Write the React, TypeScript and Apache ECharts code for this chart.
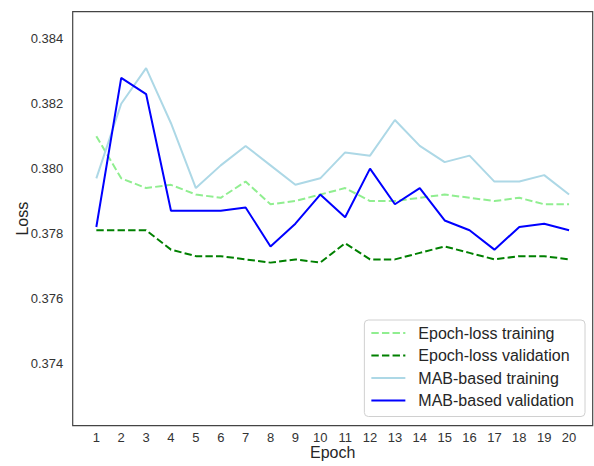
import React, { useEffect, useRef } from "react";
import * as echarts from "echarts";

const epochs = [1, 2, 3, 4, 5, 6, 7, 8, 9, 10, 11, 12, 13, 14, 15, 16, 17, 18, 19, 20];
const epochLossTraining = [0.3810, 0.3797, 0.3794, 0.3795, 0.3792, 0.3791, 0.3796, 0.3789, 0.3790, 0.3792, 0.3794, 0.3790, 0.3790, 0.3791, 0.3792, 0.3791, 0.3790, 0.3791, 0.3789, 0.3789];
const epochLossValidation = [0.3781, 0.3781, 0.3781, 0.3775, 0.3773, 0.3773, 0.3772, 0.3771, 0.3772, 0.3771, 0.3777, 0.3772, 0.3772, 0.3774, 0.3776, 0.3774, 0.3772, 0.3773, 0.3773, 0.3772];
const mabTraining = [0.3797, 0.3820, 0.3831, 0.3814, 0.3794, 0.3801, 0.3807, 0.3801, 0.3795, 0.3797, 0.3805, 0.3804, 0.3815, 0.3807, 0.3802, 0.3804, 0.3796, 0.3796, 0.3798, 0.3792];
const mabValidation = [0.3782, 0.3828, 0.3823, 0.3787, 0.3787, 0.3787, 0.3788, 0.3776, 0.3783, 0.3792, 0.3785, 0.3800, 0.3789, 0.3794, 0.3784, 0.3781, 0.3775, 0.3782, 0.3783, 0.3781];
const yTicks = [0.374, 0.376, 0.378, 0.380, 0.382, 0.384];

const FONT = "'Liberation Sans', Arial, sans-serif";

export default function App() {
  const ref = useRef<HTMLDivElement>(null);
  useEffect(() => {
    if (!ref.current) return;
    const chart = echarts.init(ref.current, undefined, { renderer: "svg" });
    const pairs = (vals: number[]) => epochs.map((e, i) => [e, vals[i]]);
    const dash = [7.4, 3.2];
    chart.setOption({
      animation: false,
      backgroundColor: "#ffffff",
      textStyle: { fontFamily: FONT },
      grid: {
        left: 72.7,
        top: 11.7,
        right: 1.3,
        bottom: 40.3,
        show: true,
        borderColor: "#444",
        borderWidth: 1.2,
        backgroundColor: "transparent",
      },
      legend: {
        orient: "vertical",
        right: 9,
        top: 320,
        itemWidth: 34,
        itemHeight: 16,
        itemGap: 6.5,
        padding: [5, 11, 8, 6],
        backgroundColor: "rgba(255,255,255,0.85)",
        borderColor: "#d0d0d0",
        borderWidth: 1,
        borderRadius: 4,
        itemStyle: { opacity: 0 },
        textStyle: { fontSize: 16, color: "#262626", fontFamily: FONT, padding: [0, 0, 0, 8] },
        data: ["Epoch-loss training", "Epoch-loss validation", "MAB-based training", "MAB-based validation"],
      },
      xAxis: {
        type: "value",
        min: 0.05,
        max: 20.95,
        name: "Epoch",
        nameLocation: "middle",
        nameGap: 19,
        nameMoveOverlap: false,
        nameTextStyle: { fontSize: 16, color: "#262626", fontFamily: FONT },
        axisLine: { show: false },
        axisTick: { show: false },
        splitLine: { show: false },
        axisLabel: {
          customValues: epochs,
          fontSize: 13,
          color: "#333",
          margin: 5.5,
          fontFamily: FONT,
        },
      },
      yAxis: {
        type: "value",
        min: 0.37207,
        max: 0.38484,
        name: "Loss",
        nameLocation: "middle",
        nameGap: 42,
        nameMoveOverlap: false,
        nameTextStyle: { fontSize: 16, color: "#262626", fontFamily: FONT },
        axisLine: { show: false },
        axisTick: { show: false },
        splitLine: { show: false },
        axisLabel: {
          customValues: yTicks,
          formatter: (v: number) => v.toFixed(3),
          fontSize: 13,
          color: "#333",
          margin: 9.4,
          fontFamily: FONT,
        },
      },
      series: [
        {
          name: "Epoch-loss training",
          type: "line",
          symbol: "none",
          data: pairs(epochLossTraining),
          lineStyle: { color: "#90ee90", width: 2, type: dash },
          itemStyle: { color: "#90ee90" },
        },
        {
          name: "Epoch-loss validation",
          type: "line",
          symbol: "none",
          data: pairs(epochLossValidation),
          lineStyle: { color: "#008000", width: 2, type: dash },
          itemStyle: { color: "#008000" },
        },
        {
          name: "MAB-based training",
          type: "line",
          symbol: "none",
          data: pairs(mabTraining),
          lineStyle: { color: "#add8e6", width: 2 },
          itemStyle: { color: "#add8e6" },
        },
        {
          name: "MAB-based validation",
          type: "line",
          symbol: "none",
          data: pairs(mabValidation),
          lineStyle: { color: "#0000ff", width: 2 },
          itemStyle: { color: "#0000ff" },
        },
      ],
    });
    return () => chart.dispose();
  }, []);
  return <div ref={ref} style={{ width: 594, height: 466, position: "absolute", left: 0, top: 0 }} />;
}
